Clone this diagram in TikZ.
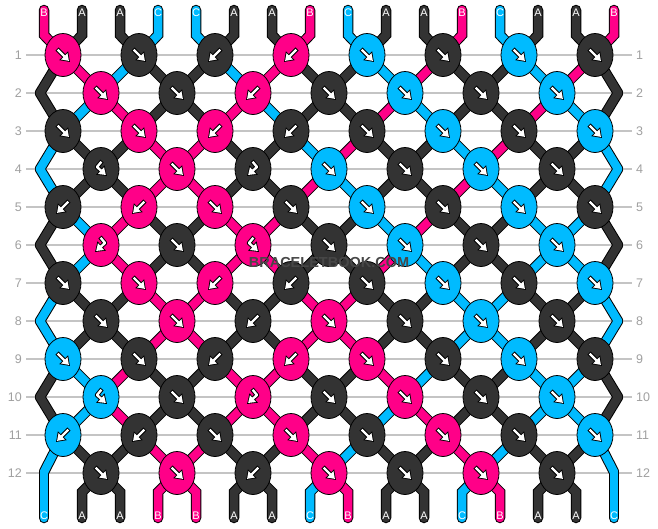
\documentclass[tikz,border=0pt]{standalone}
\usepackage{fontspec}
\setmainfont{Liberation Sans}
\usetikzlibrary{shapes.geometric, arrows.meta}

\definecolor{strA}{HTML}{333333}
\definecolor{strB}{HTML}{FF0088}
\definecolor{strC}{HTML}{00BBFF}
\definecolor{rowgray}{HTML}{A0A0A0}
\definecolor{linegray}{HTML}{C4C4C4}

\tikzset{
  strandout/.style={draw=black, line width=10.5pt, line cap=round},
  strandin/.style={draw=str#1, line width=8.5pt, line cap=round},
  knot/.style={ellipse, draw=black, line width=0.8pt, fill=str#1,
    minimum width=36pt, minimum height=43pt, inner sep=0pt},
  arrowout/.style={draw=black, line width=4.4pt,
    -{Triangle[length=9pt,width=12pt]}},
  arrowin/.style={draw=white, line width=2.4pt, shorten >=1.5pt, shorten <=1pt,
    -{Triangle[length=6.6pt,width=8.6pt]}},
  strlabel/.style={text=white, font=\fontsize{11}{13}\selectfont, inner sep=0pt},
  rownum/.style={text=rowgray, font=\fontsize{12.5}{14}\selectfont, inner sep=0pt},
  rowline/.style={draw=linegray, line width=1.2pt},
  pics/f/.style={code={\draw[arrowout] (-6,-6) -- (7,7);
                       \draw[arrowin]  (-6,-6) -- (7,7);}},
  pics/b/.style={code={\draw[arrowout] (6,-6) -- (-7,7);
                       \draw[arrowin]  (6,-6) -- (-7,7);}},
  pics/fb/.style={code={\draw[arrowout, line join=round] (1,-8) -- (-4,-2) -- (6,7);
                        \draw[arrowin, line join=round]  (1,-8) -- (-4,-2) -- (6,7);}},
  pics/bf/.style={code={\draw[arrowout, line join=round] (-1,-8) -- (4,-2) -- (-6,7);
                        \draw[arrowin, line join=round]  (-1,-8) -- (4,-2) -- (-6,7);}},
}

% Punkt eines Fadens: Zeile #1 (0 = oben, 13 = unten), Position #2
\newcommand{\strandpt}[2]{%
  \pgfmathsetmacro{\px}{44+38*#2}%
  \ifnum#1=0 \def\py{35}\else
  \ifnum#1=13 \def\py{492}\else
    \pgfmathsetmacro{\py}{55+38*(#1-1)}%
    \pgfmathsetmacro{\px}{\px+19*(2*mod(#1+#2,2)-1)}%
    \ifodd#1\else
      \ifnum#2=0 \def\px{40}\fi
      \ifnum#2=15 \def\px{618}\fi
      \ifnum#1=12
        \ifnum#2=0 \def\px{44}\def\py{472}\fi
        \ifnum#2=15 \def\px{614}\def\py{472}\fi
      \fi
    \fi
  \fi\fi}

% Faeden von Zeile zu Zeile (Farbe nach der jeweiligen Zeile)
\newcommand{\strandpass}[1]{%
  \foreach \row/\seq in {
     0/{B,A,A,C,C,A,A,B,C,A,A,B,C,A,A,B},
     1/{A,B,C,A,A,C,B,A,A,C,B,A,A,C,B,A},
     2/{A,C,B,A,A,B,C,A,A,B,C,A,A,B,C,A},
     3/{C,A,A,B,B,A,A,C,B,A,A,C,B,A,A,C},
     4/{C,A,A,B,B,A,A,B,C,A,A,B,C,A,A,C},
     5/{A,C,B,A,A,B,B,A,A,C,B,A,A,C,C,A},
     6/{A,C,B,A,A,B,B,A,A,B,C,A,A,C,C,A},
     7/{C,A,A,B,B,A,A,B,B,A,A,C,C,A,A,C},
     8/{C,A,A,B,B,A,A,B,B,A,A,C,C,A,A,C},
     9/{A,C,B,A,A,B,B,A,A,B,C,A,A,C,C,A},
    10/{A,C,B,A,A,B,B,A,A,C,B,A,A,C,C,A},
    11/{C,A,A,B,B,A,A,B,C,A,A,B,C,A,A,C},
    12/{C,A,A,B,B,A,A,C,B,A,A,C,B,A,A,C}}
  {
    \pgfmathtruncatemacro{\rn}{\row+1}
    \foreach \col [count=\j from 0] in \seq {
      \strandpt{\row}{\j}\let\xa\px\let\ya\py
      \strandpt{\rn}{\j}\let\xb\px\let\yb\py
      \ifnum\row=0 \draw[#1=\col] (\xa,10) -- (\xa,\ya) -- (\xb,\yb);
      \else\ifnum\row=12 \draw[#1=\col] (\xa,\ya) -- (\xb,\yb) -- (\xb,518);
      \else \draw[#1=\col] (\xa,\ya) -- (\xb,\yb);
      \fi\fi
    }
  }}

\begin{document}
\begin{tikzpicture}[x=1pt, y=-1pt]

\fill[white] (0,0) rectangle (658,528);
\useasboundingbox (0,0) rectangle (658,528);

% ── Zeilenlinien und Nummern ─────────────────────────────
\foreach \row in {1,...,12} {
  \pgfmathsetmacro{\ry}{55+38*(\row-1)}
  \draw[rowline] (26,\ry) -- (632,\ry);
  \node[rownum, anchor=east] (rl-\row) at (22,\ry) {\row};
  \node[rownum, anchor=west] (rr-\row) at (636,\ry) {\row};
}

% ── Faeden: Rand, dann Farbe ─────────────────────────────
\strandpass{strandout}
\strandpass{strandin}

% ── Knoten ──────────────────────────────────────────────
\foreach \row/\knots in {
   1/{B/f,A/f,A/b,B/b,C/f,A/f,C/f,A/f},
   2/{B/f,A/f,B/b,A/f,C/f,A/f,C/f},
   3/{A/f,B/f,B/b,A/b,A/f,C/f,A/f,C/f},
   4/{A/fb,B/f,A/bf,C/f,A/f,C/f,A/f},
   5/{A/b,B/b,B/f,A/f,C/f,A/f,C/f,A/f},
   6/{B/bf,A/f,B/fb,A/f,C/f,A/f,C/f},
   7/{A/f,B/f,B/b,A/b,A/f,C/f,A/f,C/f},
   8/{A/f,B/f,A/b,B/f,A/f,C/f,A/f},
   9/{C/f,A/f,A/b,B/b,B/f,A/f,C/f,A/f},
  10/{C/fb,A/f,B/bf,A/f,B/f,A/f,C/f},
  11/{C/b,A/b,A/f,B/f,A/f,B/f,A/f,C/f},
  12/{A/f,B/f,A/b,B/f,A/f,B/f,A/f}}
{
  \foreach \col/\kind [count=\j from 0] in \knots {
    \pgfmathsetmacro{\kx}{ifthenelse(mod(\row,2)==1,63,101)+76*\j}
    \pgfmathsetmacro{\ky}{55+38*(\row-1)}
    \node[knot=\col] (k-\row-\j) at (\kx,\ky) {};
    \pic at (k-\row-\j) {\kind};
  }
}

% ── Fadennamen oben und unten ───────────────────────────
\foreach \col [count=\j from 0] in {B,A,A,C,C,A,A,B,C,A,A,B,C,A,A,B}
  \node[strlabel] (lt-\j) at (44+38*\j,13) {\col};
\foreach \col [count=\j from 0] in {C,A,A,B,B,A,A,C,B,A,A,C,B,A,A,C}
  \node[strlabel] (lb-\j) at (44+38*\j,516) {\col};

% ── Wasserzeichen ───────────────────────────────────────
\node[text=black!72, font=\bfseries\fontsize{14.5}{16}\selectfont, inner sep=0pt]
  (wm) at (329,263) {BRACELETBOOK.COM};

\end{tikzpicture}
\end{document}
